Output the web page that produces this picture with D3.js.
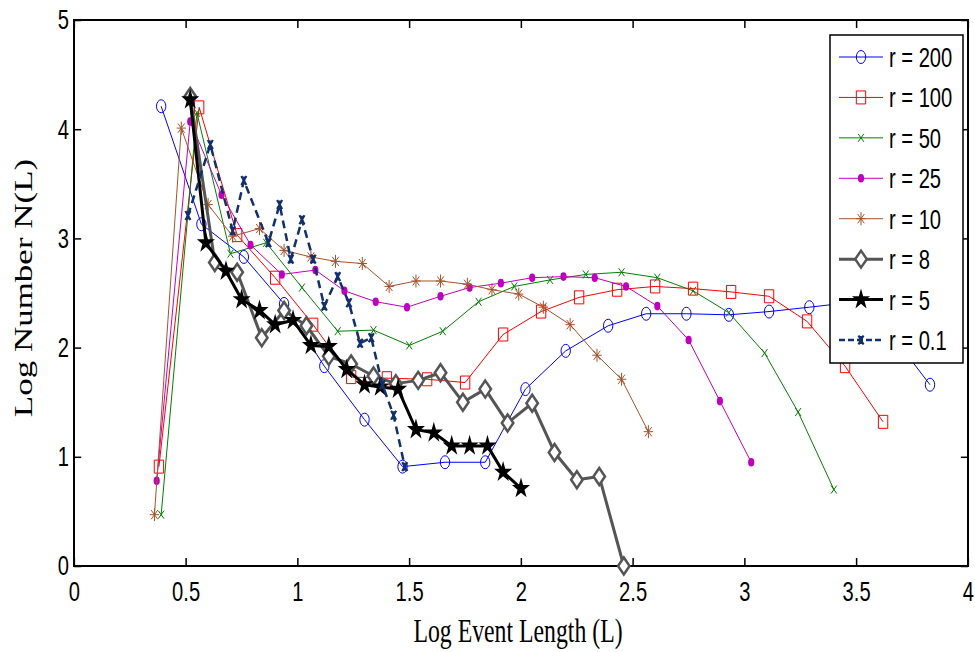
<!DOCTYPE html>
<html>
<head>
<meta charset="utf-8">
<script src="https://cdn.jsdelivr.net/npm/d3@7"></script>
<style>
  body { margin: 0; background: #fff; }
  svg { display: block; }
</style>
</head>
<body>
<script>
// series values (x = log event length, y = log number)
var r200X = [0.39,0.57,0.76,0.94,1.12,1.30,1.47,1.66,1.84,2.02,2.20,2.39,2.56,2.74,2.93,3.11,3.29,3.46,3.65,3.83];
var r200Y = [4.21,3.13,2.83,2.40,1.83,1.34,0.91,0.95,0.95,1.62,1.97,2.20,2.31,2.31,2.30,2.33,2.37,2.41,2.14,1.66];
var r100X = [0.38,0.56,0.73,0.90,1.07,1.24,1.40,1.58,1.75,1.92,2.09,2.26,2.43,2.60,2.77,2.94,3.11,3.28,3.45,3.62];
var r100Y = [0.91,4.20,3.03,2.64,2.21,1.73,1.72,1.71,1.68,2.12,2.33,2.46,2.53,2.56,2.54,2.51,2.47,2.24,1.83,1.32];
var r50X = [0.39,0.55,0.70,0.86,1.02,1.18,1.34,1.50,1.65,1.81,1.97,2.13,2.29,2.45,2.61,2.77,2.93,3.09,3.24,3.40];
var r50Y = [0.47,4.15,2.86,2.96,2.55,2.15,2.16,2.02,2.15,2.42,2.56,2.62,2.67,2.69,2.64,2.52,2.32,1.95,1.41,0.70];
var r25X = [0.37,0.52,0.66,0.79,0.93,1.08,1.21,1.35,1.49,1.64,1.77,1.91,2.05,2.19,2.33,2.47,2.61,2.75,2.89,3.03];
var r25Y = [0.78,4.07,3.40,2.94,2.67,2.71,2.52,2.42,2.37,2.47,2.55,2.59,2.64,2.65,2.64,2.56,2.38,2.07,1.51,0.95];
var r10X = [0.36,0.48,0.60,0.71,0.83,0.94,1.06,1.17,1.29,1.41,1.53,1.64,1.76,1.87,1.99,2.10,2.22,2.34,2.45,2.57];
var r10Y = [0.47,4.01,3.31,3.02,3.09,2.89,2.83,2.79,2.77,2.56,2.61,2.61,2.58,2.53,2.49,2.37,2.21,1.93,1.71,1.23];
var r8X = [0.52,0.63,0.73,0.84,0.94,1.04,1.14,1.24,1.34,1.44,1.54,1.64,1.74,1.84,1.94,2.05,2.15,2.25,2.35,2.46];
var r8Y = [4.30,2.78,2.69,2.09,2.34,2.20,1.92,1.85,1.74,1.67,1.70,1.77,1.50,1.62,1.31,1.49,1.04,0.79,0.82,0.00];
var r5X = [0.52,0.59,0.68,0.75,0.83,0.90,0.98,1.06,1.14,1.22,1.30,1.37,1.45,1.53,1.61,1.69,1.77,1.85,1.92,2.00];
var r5Y = [4.27,2.96,2.70,2.44,2.34,2.21,2.25,2.02,2.01,1.80,1.66,1.64,1.62,1.25,1.22,1.10,1.10,1.10,0.86,0.71];
var r01X = [0.51,0.61,0.71,0.76,0.87,0.92,0.97,1.02,1.07,1.12,1.18,1.23,1.28,1.33,1.38,1.43,1.48];
var r01Y = [3.21,3.86,3.07,3.53,2.96,3.31,2.81,3.17,2.81,2.38,2.65,2.41,2.04,2.09,1.66,1.38,0.91];

var legendLabels = ["r = 200", "r = 100", "r = 50", "r = 25", "r = 10", "r = 8", "r = 5", "r = 0.1"];
var xTicks = [0, 0.5, 1, 1.5, 2, 2.5, 3, 3.5, 4];
var yTicks = [0, 1, 2, 3, 4, 5];

// series styles (marker type, colour, line width, dash)
var series = [
  { x: r200X, y: r200Y, mark: "o", color: "#0000ff", lw: 1 },
  { x: r100X, y: r100Y, mark: "s", color: "#ff0000", lw: 1 },
  { x: r50X,  y: r50Y,  mark: "x", color: "#008000", lw: 1 },
  { x: r25X,  y: r25Y,  mark: ".", color: "#bf00bf", lw: 1 },
  { x: r10X,  y: r10Y,  mark: "*", color: "#a5522a", lw: 1 },
  { x: r8X,   y: r8Y,   mark: "d", color: "#555555", lw: 3 },
  { x: r5X,   y: r5Y,   mark: "p", color: "#000000", lw: 3 },
  { x: r01X,  y: r01Y,  mark: "n", color: "#12306b", lw: 2.5, dash: "8,5" }
];

// the source picture is squeezed sideways, so draw in a wider space and squeeze it too
var k = 0.72;
var W = 975 / k, H = 652;

var svg = d3.select("body").append("svg")
  .attr("width", 975)
  .attr("height", 652)
  .attr("viewBox", "0 0 " + W + " " + H)
  .attr("preserveAspectRatio", "none");

var plotLeft = 74 / k, plotRight = 968 / k, plotTop = 20, plotBottom = 566;

var x = d3.scaleLinear().domain([0, 4]).range([plotLeft, plotRight]);
var y = d3.scaleLinear().domain([0, 5]).range([plotBottom, plotTop]);

var sansFont = "'Liberation Sans', Arial, sans-serif";
var serifFont = "'Liberation Serif', 'Times New Roman', serif";

// axes, ticks pointing inward on all four sides
svg.append("g").attr("transform", "translate(0," + plotBottom + ")")
  .call(d3.axisBottom(x).tickValues(xTicks).tickFormat(String).tickSizeInner(-8).tickSizeOuter(0).tickPadding(15));
svg.append("g").attr("transform", "translate(0," + plotTop + ")")
  .call(d3.axisTop(x).tickValues(xTicks).tickFormat("").tickSizeInner(-8).tickSizeOuter(0));
svg.append("g").attr("transform", "translate(" + plotLeft + ",0)")
  .call(d3.axisLeft(y).tickValues(yTicks).tickFormat(String).tickSizeInner(-10).tickSizeOuter(0).tickPadding(7));
svg.append("g").attr("transform", "translate(" + plotRight + ",0)")
  .call(d3.axisRight(y).tickValues(yTicks).tickFormat("").tickSizeInner(-10).tickSizeOuter(0));

svg.selectAll(".domain").remove();
svg.selectAll(".tick line")
  .attr("stroke", "#000")
  .attr("stroke-width", 1.5)
  .attr("vector-effect", "non-scaling-stroke");
svg.selectAll(".tick text")
  .attr("fill", "#000")
  .style("font-family", sansFont)
  .style("font-size", "28px");

svg.append("rect")
  .attr("x", plotLeft).attr("y", plotTop)
  .attr("width", plotRight - plotLeft).attr("height", plotBottom - plotTop)
  .attr("fill", "none")
  .attr("stroke", "#000")
  .attr("stroke-width", 2)
  .attr("vector-effect", "non-scaling-stroke");

// marker shapes
function drawMarker(g, mark, color) {
  if (mark === "o") {
    g.append("circle").attr("r", 6.5).attr("fill", "none").attr("stroke", color)
      .attr("stroke-width", 1).attr("vector-effect", "non-scaling-stroke");
  } else if (mark === "s") {
    g.append("rect").attr("x", -6.5).attr("y", -6.5).attr("width", 13).attr("height", 13)
      .attr("fill", "none").attr("stroke", color)
      .attr("stroke-width", 1).attr("vector-effect", "non-scaling-stroke");
  } else if (mark === "x") {
    g.append("path").attr("d", "M-4,-4L4,4M-4,4L4,-4").attr("stroke", color)
      .attr("stroke-width", 1).attr("vector-effect", "non-scaling-stroke");
  } else if (mark === ".") {
    g.append("circle").attr("r", 4.3).attr("fill", color);
  } else if (mark === "*") {
    g.append("path").attr("d", "M0,-6.5V6.5M-6.5,0H6.5M-4.6,-4.6L4.6,4.6M-4.6,4.6L4.6,-4.6")
      .attr("stroke", color).attr("stroke-width", 1).attr("vector-effect", "non-scaling-stroke");
  } else if (mark === "d") {
    g.append("path").attr("d", "M0,-8.5L8,0L0,8.5L-8,0Z").attr("fill", "#fff").attr("stroke", color)
      .attr("stroke-width", 2.5).attr("vector-effect", "non-scaling-stroke");
  } else if (mark === "p") {
    g.append("path").attr("d", d3.symbol(d3.symbolStar, 136)())
      .attr("transform", "scale(1.2,1)")
      .attr("fill", color);
  } else if (mark === "n") {
    g.append("path").attr("d", "M-3.5,-4.5L3.5,4.5M-3.5,4.5L3.5,-4.5M0,-4V4")
      .attr("stroke", color).attr("stroke-width", 2.2).attr("vector-effect", "non-scaling-stroke");
  }
}

var line = d3.line().x(d => x(d[0])).y(d => y(d[1]));

series.forEach(function (s) {
  var pts = d3.zip(s.x, s.y);
  var g = svg.append("g");
  g.append("path")
    .datum(pts)
    .attr("d", line)
    .attr("fill", "none")
    .attr("stroke", s.color)
    .attr("stroke-width", s.lw)
    .attr("stroke-dasharray", s.dash || null)
    .attr("stroke-linejoin", "round")
    .attr("vector-effect", "non-scaling-stroke");
  g.selectAll("g.pt")
    .data(pts)
    .enter().append("g")
    .attr("class", "pt")
    .attr("transform", d => "translate(" + x(d[0]) + "," + y(d[1]) + ")")
    .each(function () { drawMarker(d3.select(this), s.mark, s.color); });
});

// legend
var lg = svg.append("g");
lg.append("rect")
  .attr("x", 830 / k).attr("y", 35)
  .attr("width", 133 / k).attr("height", 328)
  .attr("fill", "#fff")
  .attr("stroke", "#000")
  .attr("stroke-width", 1.5)
  .attr("vector-effect", "non-scaling-stroke");

var rowY = d3.scaleLinear().domain([0, 7]).range([57, 340]);
series.forEach(function (s, i) {
  var yy = rowY(i);
  lg.append("line")
    .attr("x1", 839 / k).attr("x2", 883 / k)
    .attr("y1", yy).attr("y2", yy)
    .attr("stroke", s.color)
    .attr("stroke-width", s.lw)
    .attr("stroke-dasharray", s.dash ? "6,3" : null)
    .attr("vector-effect", "non-scaling-stroke");
  drawMarker(lg.append("g").attr("transform", "translate(" + (861 / k) + "," + yy + ")"), s.mark, s.color);
  lg.append("text")
    .attr("x", 889 / k).attr("y", yy + 10)
    .style("font-family", sansFont)
    .style("font-size", "28px")
    .text(legendLabels[i]);
});

// axis titles
svg.append("text")
  .attr("x", 518 / k).attr("y", 642)
  .attr("text-anchor", "middle")
  .style("font-family", serifFont)
  .style("font-size", "33px")
  .text("Log Event Length (L)");

svg.append("text")
  .attr("transform", "translate(" + (32 / k) + ",288) rotate(-90)")
  .attr("text-anchor", "middle")
  .style("font-family", serifFont)
  .style("font-size", "35px")
  .text("Log Number N(L)");
</script>
</body>
</html>
